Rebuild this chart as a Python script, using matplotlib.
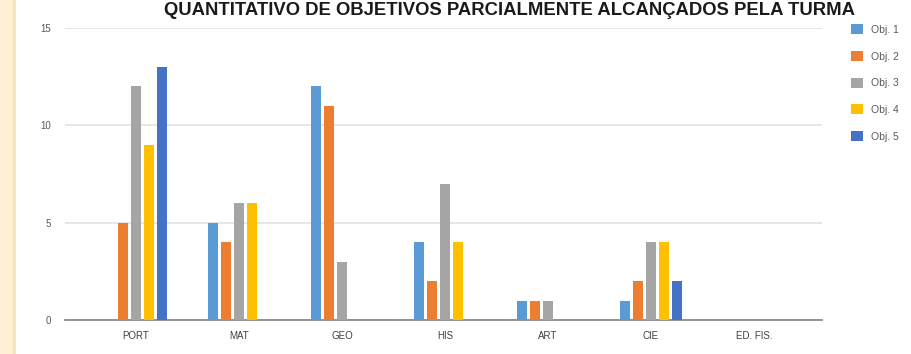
import numpy as np
import matplotlib
matplotlib.use("Agg")
import matplotlib.pyplot as plt
from matplotlib.patches import Rectangle

# dados do grafico
materias = ["PORT", "MAT", "GEO", "HIS", "ART", "CIE", "ED. FIS."]
series = ["Obj. 1", "Obj. 2", "Obj. 3", "Obj. 4", "Obj. 5"]
obj1 = [0, 5, 12, 4, 1, 1, 0]
obj2 = [5, 4, 11, 2, 1, 2, 0]
obj3 = [12, 6, 3, 7, 1, 4, 0]
obj4 = [9, 6, 0, 4, 0, 4, 0]
obj5 = [13, 0, 0, 0, 0, 2, 0]
cores = ["#5B9BD5", "#ED7D31", "#A5A5A5", "#FFC000", "#4472C4"]
titulo = "QUANTITATIVO DE OBJETIVOS PARCIALMENTE ALCANÇADOS PELA TURMA"

plt.rcParams['font.family'] = ['Liberation Sans', 'DejaVu Sans']

fig = plt.figure(figsize=(9.12, 3.54), dpi=100)
fig.patch.set_facecolor("white")

# faixa creme na esquerda
fig.patches.append(Rectangle((0, 0), 13/912, 1, transform=fig.transFigure,
                             facecolor="#FDF0D5", edgecolor="none", zorder=0))
fig.patches.append(Rectangle((13/912, 0), 3/912, 1, transform=fig.transFigure,
                             facecolor="#F6E3BE", edgecolor="none", zorder=0))

ax = fig.add_axes([65/912, 34/354, (822-65)/912, (320-28)/354])

x = np.arange(len(materias))
dados = [obj1, obj2, obj3, obj4, obj5]
passo = 0.126
larg = 0.097
for i, vals in enumerate(dados):
    ax.bar(x + (i-2)*passo, vals, width=larg, color=cores[i], label=series[i], zorder=3)

ax.set_xlim(-0.69, 6.66)
ax.set_ylim(0, 15)
ax.set_yticks([0, 5, 10, 15])
ax.set_xticks(x)
ax.set_xticklabels(materias, fontsize=7, color="#404040")
ax.tick_params(axis='y', labelsize=7, colors="#595959", length=0, pad=10)
ax.tick_params(axis='x', length=0, pad=8)
ax.grid(axis='y', color="#E3E3E3", linewidth=1.2, zorder=0)
for s in ["top", "right", "left"]:
    ax.spines[s].set_visible(False)
ax.spines["bottom"].set_color("#8C8C8C")
ax.spines["bottom"].set_linewidth(1.3)

leg = fig.legend(loc="upper left", bbox_to_anchor=(842/912, 1 - 15/354),
                 frameon=False, fontsize=7.5, handlelength=1.1, handleheight=1.1,
                 labelspacing=1.55, handletextpad=0.8)
for t in leg.get_texts():
    t.set_color("#595959")

fig.text(510/912, 1 - 15/354, titulo, ha="center", va="baseline",
         fontsize=13.3, fontweight="bold", color="#1a1a1a")

fig.savefig("out.png", dpi=100)
